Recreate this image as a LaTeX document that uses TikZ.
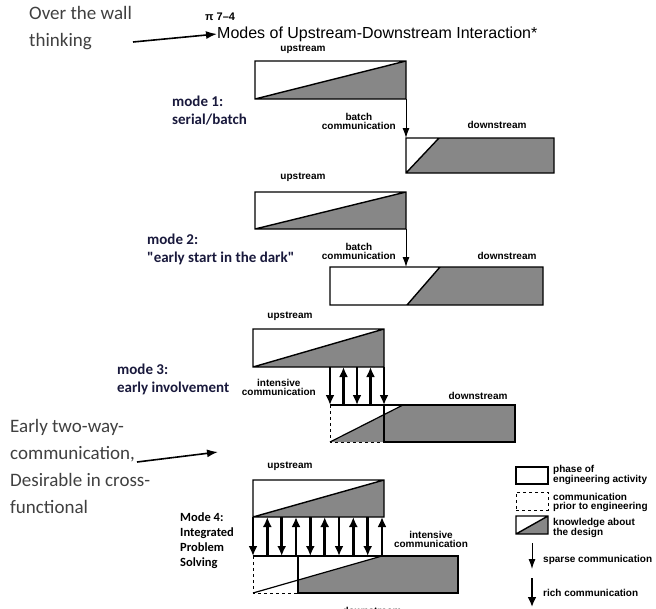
\documentclass[tikz,border=0pt]{standalone}
\usepackage{fontspec}
\setmainfont{Liberation Sans}
\newfontfamily\notefont{Carlito}
\usetikzlibrary{arrows.meta}
\definecolor{notegray}{RGB}{64,64,64}
\definecolor{modecol}{RGB}{25,25,60}
\definecolor{shade}{RGB}{135,135,135}

\begin{document}
\begin{tikzpicture}[x=1pt,y=-1pt,>={Latex[length=10pt,width=7pt]},
  slot/.style={inner sep=0pt,outer sep=0pt,anchor=north west},
  edge/.style={line width=1.4pt},
  dashedge/.style={line width=1pt,dashed},
  know/.style={fill=shade},
  tag/.style={font=\bfseries\fontsize{10}{9}\selectfont,align=center,inner sep=0pt},
  legtext/.style={tag,align=left,anchor=west},
  sparse/.style={->,line width=1pt},
  rich/.style={-{Latex[length=10pt,width=9pt]},line width=2.8pt},
  note/.style={font=\notefont\fontsize{19}{27}\selectfont,text=notegray,align=left,anchor=west,inner sep=0pt},
  modetxt/.style={font=\notefont\bfseries\fontsize{15}{18}\selectfont,text=modecol,align=left,anchor=west,inner sep=0pt},
  notearrow/.style={-{Latex[length=11pt,width=8pt]},line width=1.6pt}]
  \useasboundingbox (0,0) rectangle (656,608);

  % notes and title
  \node[note] (wall) at (29,28) {Over the wall\\thinking};
  \node[note] (twoway) at (10,466) {Early two-way-\\communication,\\Desirable in cross-\\functional};
  \node[font=\bfseries\fontsize{11}{11}\selectfont,anchor=west,inner sep=0pt] (fig) at (205,17) {π 7–4};
  \node[font=\fontsize{16}{18}\selectfont,anchor=west,inner sep=0pt] (title) at (217,34) {Modes of Upstream-Downstream Interaction*};
  \coordinate (wallfrom) at (133,42);
  \draw[notearrow] (wallfrom) -- (title.west);
  \coordinate (twofrom) at (137,462);
  \coordinate (twoto) at (218,452);
  \draw[notearrow] (twofrom) -- (twoto);

  % mode 1
  \node[modetxt] (m1) at (172,111) {mode 1:\\serial/batch};
  \node[slot,minimum width=151pt,minimum height=38pt] (up1) at (255,61) {};
  \fill[know] (up1.south west) -- (up1.north east) -- (up1.south east) -- cycle;
  \draw[edge] (up1.north west) rectangle (up1.south east) (up1.south west) -- (up1.north east);
  \node[tag] (lu1) at (303,49) {upstream};
  \node[slot,minimum width=148pt,minimum height=35pt] (dn1) at (406,138) {};
  \fill[know] (dn1.south west) -- ([xshift=33pt]dn1.north west) -- (dn1.north east) -- (dn1.south east) -- cycle;
  \draw[edge] (dn1.north west) rectangle (dn1.south east) (dn1.south west) -- ([xshift=33pt]dn1.north west);
  \node[tag] (ld1) at (497,125) {downstream};
  \draw[sparse] (up1.south east) -- (dn1.north west);
  \node[tag,anchor=east] (bc1) at (396,121) {batch\\communication};

  % mode 2
  \node[modetxt] (m2) at (147,249) {mode 2:\\"early start in the dark"};
  \node[slot,minimum width=151pt,minimum height=37pt] (up2) at (255,192) {};
  \fill[know] (up2.south west) -- (up2.north east) -- (up2.south east) -- cycle;
  \draw[edge] (up2.north west) rectangle (up2.south east) (up2.south west) -- (up2.north east);
  \node[tag] (lu2) at (303,177) {upstream};
  \node[slot,minimum width=213pt,minimum height=38pt] (dn2) at (330,267) {};
  \fill[know] ([xshift=77pt]dn2.south west) -- ([xshift=110pt]dn2.north west) -- (dn2.north east) -- (dn2.south east) -- cycle;
  \draw[edge] (dn2.north west) rectangle (dn2.south east) ([xshift=77pt]dn2.south west) -- ([xshift=110pt]dn2.north west);
  \node[tag] (ld2) at (507,256) {downstream};
  \draw[sparse] (up2.south east) -- (up2.south east |- dn2.north);
  \node[tag,anchor=east] (bc2) at (396,251) {batch\\communication};

  % mode 3
  \node[modetxt] (m3) at (117,379) {mode 3:\\early involvement};
  \node[slot,minimum width=131pt,minimum height=38pt] (up3) at (253,329) {};
  \fill[know] (up3.south west) -- (up3.north east) -- (up3.south east) -- cycle;
  \draw[edge] (up3.north west) rectangle (up3.south east) (up3.south west) -- (up3.north east);
  \node[tag] (lu3) at (290,316) {upstream};
  \node[slot,minimum width=54pt,minimum height=37pt] (pre3) at (330,405) {};
  \node[slot,minimum width=131pt,minimum height=37pt] (dn3) at (384,405) {};
  \fill[know] (pre3.south west) -- ([xshift=19pt]dn3.north west) -- (dn3.north east) -- (dn3.south east) -- cycle;
  \draw[line width=1.2pt] (pre3.south west) -- ([xshift=19pt]dn3.north west);
  \draw[edge] (dn3.north west) rectangle (dn3.south east);
  \draw[dashedge] (pre3.north west) -- (pre3.south west) -- (pre3.south east);
  \draw[edge] (pre3.north west) -- (pre3.north east);
  \node[tag] (ld3) at (478,396) {downstream};
  \node[tag,anchor=east] (ic3) at (316,387) {intensive\\communication};
  \draw[rich] ([xshift=0pt]pre3.north west |- up3.south) -- ([xshift=0pt]pre3.north west);
  \draw[rich] ([xshift=13.5pt]pre3.north west) -- ([xshift=13.5pt]pre3.north west |- up3.south);
  \draw[rich] ([xshift=27pt]pre3.north west |- up3.south) -- ([xshift=27pt]pre3.north west);
  \draw[rich] ([xshift=40.5pt]pre3.north west) -- ([xshift=40.5pt]pre3.north west |- up3.south);
  \draw[rich] ([xshift=54pt]pre3.north west |- up3.south) -- ([xshift=54pt]pre3.north west);

  % mode 4
  \node[font=\notefont\bfseries\fontsize{12.5}{15}\selectfont,align=left,anchor=west,inner sep=0pt] (m4) at (180,541) {Mode 4:\\Integrated\\Problem\\Solving};
  \node[slot,minimum width=131pt,minimum height=37pt] (up4) at (253,480) {};
  \fill[know] (up4.south west) -- (up4.north east) -- (up4.south east) -- cycle;
  \draw[edge] (up4.north west) rectangle (up4.south east) (up4.south west) -- (up4.north east);
  \node[tag] (lu4) at (290,466) {upstream};
  \node[slot,minimum width=45pt,minimum height=37pt] (pre4) at (253,556) {};
  \node[slot,minimum width=160pt,minimum height=37pt] (dn4) at (298,556) {};
  \fill[know] ([yshift=13pt]dn4.south west) -- ([xshift=84pt]dn4.north west) -- (dn4.north east) -- (dn4.south east) -- (dn4.south west) -- cycle;
  \draw[line width=1.2pt] (pre4.south west) -- ([xshift=84pt]dn4.north west);
  \draw[edge] (dn4.north west) rectangle (dn4.south east);
  \draw[dashedge] (pre4.north west) -- (pre4.south west) -- (pre4.south east);
  \draw[edge] (pre4.north west) -- (pre4.north east);
  \node[tag] (ld4) at (372,611) {downstream};
  \node[tag] (ic4) at (431,539) {intensive\\communication};
  \draw[rich] ([xshift=0pt]up4.south west) -- ([xshift=0pt]up4.south west |- dn4.north);
  \draw[rich] ([xshift=14.3pt]up4.south west |- dn4.north) -- ([xshift=14.3pt]up4.south west);
  \draw[rich] ([xshift=28.7pt]up4.south west) -- ([xshift=28.7pt]up4.south west |- dn4.north);
  \draw[rich] ([xshift=43pt]up4.south west |- dn4.north) -- ([xshift=43pt]up4.south west);
  \draw[rich] ([xshift=57.3pt]up4.south west) -- ([xshift=57.3pt]up4.south west |- dn4.north);
  \draw[rich] ([xshift=71.7pt]up4.south west |- dn4.north) -- ([xshift=71.7pt]up4.south west);
  \draw[rich] ([xshift=86pt]up4.south west) -- ([xshift=86pt]up4.south west |- dn4.north);
  \draw[rich] ([xshift=100.3pt]up4.south west |- dn4.north) -- ([xshift=100.3pt]up4.south west);
  \draw[rich] ([xshift=114.7pt]up4.south west) -- ([xshift=114.7pt]up4.south west |- dn4.north);
  \draw[rich] ([xshift=129pt]up4.south west |- dn4.north) -- ([xshift=129pt]up4.south west);

  % legend
  \node[slot,draw,line width=1.2pt,minimum width=32pt,minimum height=17pt] (lg1) at (516,467) {};
  \node[legtext] (lt1) at (553,475) {phase of\\engineering activity};
  \node[slot,draw,dashedge,minimum width=32pt,minimum height=18pt] (lg2) at (516,492) {};
  \node[legtext] (lt2) at (553,502) {communication\\prior to engineering};
  \node[slot,minimum width=32pt,minimum height=18pt] (lg3) at (516,516) {};
  \fill[know] (lg3.south west) -- (lg3.north east) -- (lg3.south east) -- cycle;
  \draw[edge] (lg3.north west) rectangle (lg3.south east) (lg3.south west) -- (lg3.north east);
  \node[legtext] (lt3) at (553,528) {knowledge about\\the design};
  \coordinate (sp1) at (532,543);
  \coordinate (sp2) at (532,569);
  \draw[sparse] (sp1) -- (sp2);
  \node[legtext] (lt4) at (543,560) {sparse communication};
  \coordinate (ri1) at (532,578);
  \coordinate (ri2) at (532,607);
  \draw[rich] (ri1) -- (ri2);
  \node[legtext] (lt5) at (543,593) {rich communication};
\end{tikzpicture}
\end{document}
